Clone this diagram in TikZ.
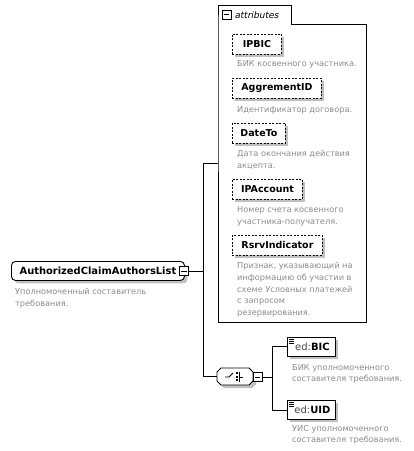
\documentclass[tikz,border=0pt]{standalone}
\usepackage{fontspec}
\setmainfont{DejaVu Sans}
\usetikzlibrary{shadows}
\definecolor{shgray}{RGB}{192,192,192}
\definecolor{dgray}{RGB}{140,140,140}
\definecolor{nsgray}{RGB}{70,70,70}
\tikzset{
 shad/.style={general shadow={fill=shgray, shadow xshift=3pt, shadow yshift=-3pt}},
 namebox/.style={draw, fill=white, shad, inner sep=0pt, line width=0.9pt, font=\fontsize{9.5}{11}\selectfont\bfseries},
 attbox/.style={namebox, dash pattern=on 2pt off 1.5pt, anchor=north west, minimum height=20pt},
 elbox/.style={namebox, anchor=north west, minimum height=19pt},
 desc/.style={anchor=north west, inner sep=0pt, align=left, text=dgray, font=\fontsize{8.2}{11.6}\selectfont},
 minusbox/.style={draw, fill=white, minimum size=9pt, inner sep=0pt, line width=0.9pt},
 conn/.style={line width=0.9pt},
}
\begin{document}
\begin{tikzpicture}[x=1pt,y=-1pt]
\useasboundingbox (0,0) rectangle (414,451);
\fill[white] (0,0) rectangle (414,451);
% attributes group
\draw[line width=0.9pt] (218,24) -- (218,322) -- (366,322) -- (366,24) -- (291,24) -- (291,5) -- (218,5) -- cycle;
\node[minusbox] (attm) at (226.5,14.5) {};
\draw[line width=0.9pt] ([xshift=2pt]attm.west) -- ([xshift=-2pt]attm.east);
\node[anchor=west, inner sep=0pt, font=\fontsize{9}{11}\selectfont\itshape] (attlbl) at (235,15) {attributes};
\coordinate (attin) at (218,163);
% attribute boxes
\node[attbox, minimum width=49pt] (ipbic) at (232,33.5) {IPBIC};
\node[desc] (dipbic) at (237,60.5) {БИК косвенного участника.};
\node[attbox, minimum width=89pt] (aggr) at (232,78) {AggrementID};
\node[desc] (daggr) at (237,106) {Идентификатор договора.};
\node[attbox, minimum width=53pt] (dateto) at (232,123) {DateTo};
\node[desc] (ddateto) at (237,150.5) {Дата окончания действия\\акцепта.};
\node[attbox, minimum width=70pt] (ipacc) at (232,179) {IPAccount};
\node[desc] (dipacc) at (237,206.5) {Номер счета косвенного\\участника-получателя.};
\node[attbox, minimum width=90pt] (rsrv) at (232,235) {RsrvIndicator};
\node[desc] (drsrv) at (237,262.5) {Признак, указывающий на\\информацию об участии в\\схеме Условных платежей\\с запросом\\резервирования.};
% main element
\node[namebox, rounded corners=4pt, anchor=north west, minimum width=173pt, minimum height=19pt, font=\fontsize{9.9}{12}\selectfont\bfseries] (main) at (11,261) {AuthorizedClaimAuthorsList};
\node[minusbox] (mainm) at (184,271) {};
\draw[line width=0.9pt] ([xshift=2pt]mainm.west) -- ([xshift=-2pt]mainm.east);
\node[desc] (dmain) at (15,288) {Уполномоченный составитель\\требования.};
% sequence
\coordinate (j1) at (203,271);
\coordinate (seqin) at (217,376.5);
\fill[shgray] (224,371) -- (252,371) -- (256,375) -- (256,384) -- (252,388) -- (224,388) -- (220,384) -- (220,375) -- cycle;
\draw[line width=0.9pt, fill=white] (221,368) -- (249,368) -- (253,372) -- (253,381) -- (249,385) -- (221,385) -- (217,381) -- (217,372) -- cycle;
\node[inner sep=0pt, minimum width=36pt, minimum height=17pt] (seq) at (235,376.5) {};
\draw[line width=0.8pt] (225,377) -- (229,377) -- (233,373);
\fill (235.5,372) rectangle (237.5,374);
\fill (235.5,375.5) rectangle (237.5,377.5);
\fill (235.5,379) rectangle (237.5,381);
\draw[line width=0.8pt] (239.5,372) -- (239.5,381.5) (239.5,377) -- (243,377);
\node[minusbox] (seqm) at (257.5,377) {};
\draw[line width=0.9pt] ([xshift=2pt]seqm.west) -- ([xshift=-2pt]seqm.east);
\coordinate (j2) at (272,377);
% elements
\node[elbox, minimum width=48pt, font=\fontsize{10}{12}\selectfont] (bic) at (287,336.5) {\hspace*{2pt}\textcolor{nsgray}{ed:}\textbf{BIC}};
\draw[line width=0.6pt] ([xshift=2pt,yshift=-2.5pt]bic.north west) -- ++(5pt,0) ([xshift=2pt,yshift=-4.5pt]bic.north west) -- ++(5pt,0) ([xshift=2pt,yshift=-6.5pt]bic.north west) -- ++(5pt,0);
\node[desc] (dbic) at (292,364) {БИК уполномоченного\\составителя требования.};
\node[elbox, minimum width=48pt, font=\fontsize{10}{12}\selectfont] (uid) at (287,400) {\hspace*{2pt}\textcolor{nsgray}{ed:}\textbf{UID}};
\draw[line width=0.6pt] ([xshift=2pt,yshift=-2.5pt]uid.north west) -- ++(5pt,0) ([xshift=2pt,yshift=-4.5pt]uid.north west) -- ++(5pt,0) ([xshift=2pt,yshift=-6.5pt]uid.north west) -- ++(5pt,0);
\node[desc] (duid) at (292,425) {УИС уполномоченного\\составителя требования.};
% connectors
\draw[conn] (mainm.east) -- (j1);
\draw[conn] (j1 |- attin) -- (attin);
\draw[conn] (j1 |- attin) -- (j1 |- seqin) -- (seqin);
\draw[conn] (seqm.east) -- (j2);
\draw[conn] (j2 |- bic.west) -- (bic.west);
\draw[conn] (j2 |- bic.west) -- (j2 |- uid.west) -- (uid.west);
\end{tikzpicture}
\end{document}
